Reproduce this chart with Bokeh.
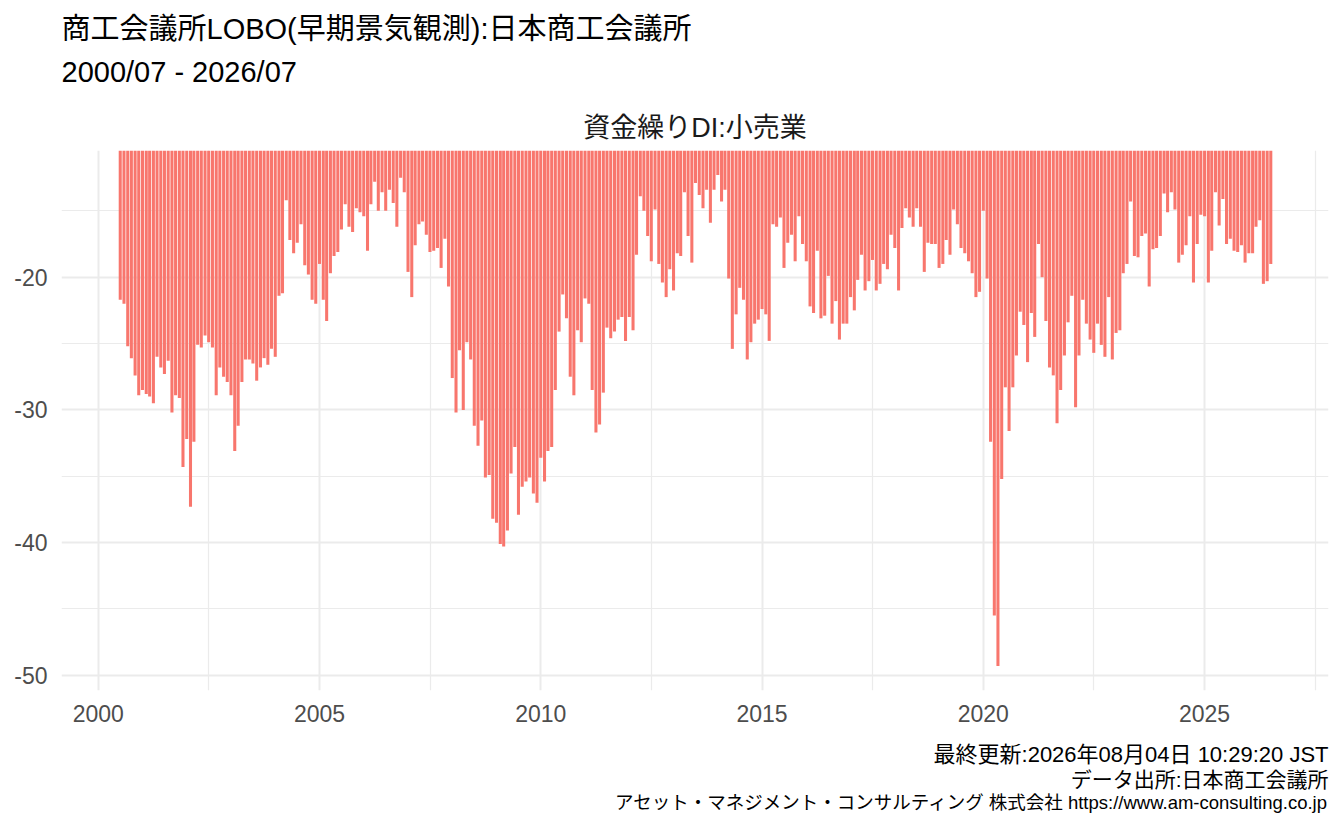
import pandas as pd
from bokeh.plotting import figure
from bokeh.models import Range1d, FixedTicker, Title, ColumnDataSource
from bokeh.embed import file_html
from bokeh.resources import INLINE

title_main = "商工会議所LOBO(早期景気観測):日本商工会議所"
title_period = "2000/07 - 2026/07"
subtitle = "資金繰りDI:小売業"
caption_lines = [
    "最終更新:2026年08月04日 10:29:20 JST",
    "データ出所:日本商工会議所",
    "アセット・マネジメント・コンサルティング 株式会社 https://www.am-consulting.co.jp",
]

start_month = "2000-07-01"
di_values = [
    -21.7, -22.0, -25.2, -26.1, -27.4, -28.9, -28.5, -28.8, -29.0, -29.5,
    -26.0, -26.8, -27.3, -26.3, -30.2, -28.9, -29.1, -34.3, -32.2, -37.3,
    -32.4, -25.1, -25.3, -24.4, -24.9, -25.3, -28.9, -26.8, -27.5, -27.9,
    -28.9, -33.1, -31.2, -27.9, -26.2, -26.2, -26.5, -27.8, -26.8, -26.1,
    -26.6, -25.4, -26.0, -21.4, -21.2, -14.2, -17.2, -18.2, -17.4, -16.0,
    -19.1, -19.8,
    -21.7, -22.0, -19.0, -21.7, -23.3, -19.7, -18.4, -18.1, -16.4, -14.5,
    -16.2, -16.6, -14.8, -15.1, -15.4, -18.0, -14.5, -12.8, -15.0, -13.6,
    -15.0, -13.4, -14.4, -16.2, -12.5, -13.6, -19.6, -21.5, -17.6, -16.0,
    -15.8, -16.8, -18.1, -18.0, -17.8, -19.3, -17.1, -20.7, -27.6, -30.2,
    -25.5, -30.0, -24.9, -26.2, -31.2, -32.7, -30.8, -35.1, -34.9, -38.2,
    -38.5, -40.1,
    -40.3, -39.1, -34.8, -32.8, -37.9, -35.8, -35.4, -35.1, -36.3, -37.0,
    -33.6, -35.4, -33.1, -32.8, -28.5, -24.1, -21.3, -23.1, -27.5, -28.9,
    -24.0, -24.9, -21.6, -22.0, -28.5, -31.7, -31.1, -28.7, -23.8, -24.6,
    -24.1, -23.2, -23.0, -24.8, -23.0, -24.0, -18.3, -13.9, -15.0, -16.9,
    -18.8, -14.9, -19.0, -20.4, -21.5, -19.4, -21.0, -18.2, -18.4, -13.6,
    -16.9,
    -18.9, -12.9, -13.8, -14.8, -13.4, -15.9, -13.4, -12.3, -14.3, -13.4,
    -20.1, -25.4, -22.8, -20.8, -21.7, -26.2, -24.9, -23.5, -23.2, -22.4,
    -22.8, -24.8, -16.0, -16.2, -15.5, -19.3, -17.4, -16.8, -18.8, -15.4,
    -17.5, -18.8, -22.2, -22.7, -18.0, -23.1, -22.9, -19.9, -23.5, -21.8,
    -24.7, -23.5, -23.5, -21.5, -22.5, -20.2, -18.3, -21.0, -20.3, -18.7,
    -21.0, -20.5,
    -19.0, -19.4, -16.8, -17.8, -21.0, -16.3, -14.8, -15.5, -16.2, -14.8,
    -16.2, -19.6, -17.4, -17.5, -17.5, -19.3, -19.0, -17.2, -18.3, -14.9,
    -16.0, -17.8, -18.2, -18.8, -19.7, -21.5, -21.1, -15.0, -20.1, -32.4,
    -45.5, -49.3, -35.2, -28.3, -31.6, -28.3, -25.9, -22.6, -23.6, -26.4,
    -22.7, -24.5, -17.5, -20.0, -23.3, -26.8, -27.4, -31.0, -28.5, -25.9,
    -23.4, -21.4,
    -29.8, -25.9, -21.7, -23.5, -24.7, -25.7, -23.5, -25.1, -26.0, -21.5,
    -26.2, -24.2, -24.0, -19.7, -19.0, -14.3, -18.4, -18.5, -16.9, -16.7,
    -20.7, -17.9, -17.8, -16.9, -13.7, -15.1, -13.6, -14.9, -18.9, -18.3,
    -17.6, -15.4, -20.4, -17.5, -15.3, -15.4, -20.4, -18.0, -13.6, -16.1,
    -14.1, -17.5, -17.1, -18.0, -18.1, -17.6, -18.9, -18.2, -18.2, -16.2,
    -15.7, -20.5, -20.3, -19.0,
]
x_tick_years = [2000, 2005, 2010, 2015, 2020, 2025]
x_minor_years = [2002.5, 2007.5, 2012.5, 2017.5, 2022.5, 2027.5]
y_ticks = [-20, -30, -40, -50]
y_minor = [-15, -25, -35, -45]

dates = pd.date_range(start_month, periods=len(di_values), freq="MS")
dec_year = [d.year + (d.dayofyear - 1) / (366 if d.is_leap_year else 365) for d in dates]
src = ColumnDataSource(dict(x=dec_year, v=di_values, zero=[0] * len(di_values)))

FONT = "'Liberation Sans', 'Noto Sans CJK JP'"
BAR = "#F8766D"
GRID = "#EBEBEB"

p = figure(width=1336, height=828, output_backend="svg", toolbar_location=None,
           x_range=Range1d(1999.17, 2027.8), y_range=Range1d(-51.15, -10.45),
           min_border_left=61, min_border_right=8, min_border_top=150, min_border_bottom=138)
p.outline_line_color = None
p.background_fill_color = "white"
p.border_fill_color = "white"

p.vbar(x="x", top="zero", bottom="v", width=0.9 * 28 / 365.25, source=src,
       fill_color=BAR, line_color=None)

p.xaxis.ticker = FixedTicker(ticks=x_tick_years, minor_ticks=x_minor_years)
p.yaxis.ticker = FixedTicker(ticks=y_ticks, minor_ticks=y_minor)
p.yaxis.major_label_overrides = {t: str(t) for t in y_ticks}
for ax in (p.xaxis, p.yaxis):
    ax.axis_line_color = None
    ax.major_tick_line_color = None
    ax.minor_tick_line_color = None
    ax.major_label_text_font = FONT
    ax.major_label_text_font_size = "23px"
    ax.major_label_text_color = "#4D4D4D"
p.yaxis.major_label_standoff = 8
p.xaxis.major_label_standoff = 8

for g in (p.xgrid, p.ygrid):
    g.grid_line_color = GRID
    g.grid_line_width = 2
    g.minor_grid_line_color = GRID
    g.minor_grid_line_width = 1.2

# outermost title: main
p.title.text = title_main
p.title.align = "left"
p.title.text_font = FONT
p.title.text_font_size = "29px"
p.title.text_font_style = "normal"
p.title.text_color = "black"
p.title.standoff = -13

p.add_layout(Title(text=subtitle, align="center", text_font=FONT, text_font_size="27px",
                   text_font_style="normal", text_color="#1A1A1A", standoff=15), "above")
p.add_layout(Title(text=title_period, align="left", text_font=FONT, text_font_size="29px",
                   text_font_style="normal", text_color="black", standoff=31), "above")

# small blank gap between the x axis labels and the caption block
p.add_layout(Title(text=" ", align="right", text_font=FONT, text_font_size="2px",
                   standoff=10), "below")
caption_sizes = ["22px", "21px", "18.5px"]
caption_standoffs = [3, -6, 5]
for line, fs, sd in zip(caption_lines, caption_sizes, caption_standoffs):
    p.add_layout(Title(text=line, align="right", text_font=FONT, text_font_size=fs,
                       text_font_style="normal", text_color="black", standoff=sd), "below")

open("out.html", "w").write(file_html(p, INLINE))
